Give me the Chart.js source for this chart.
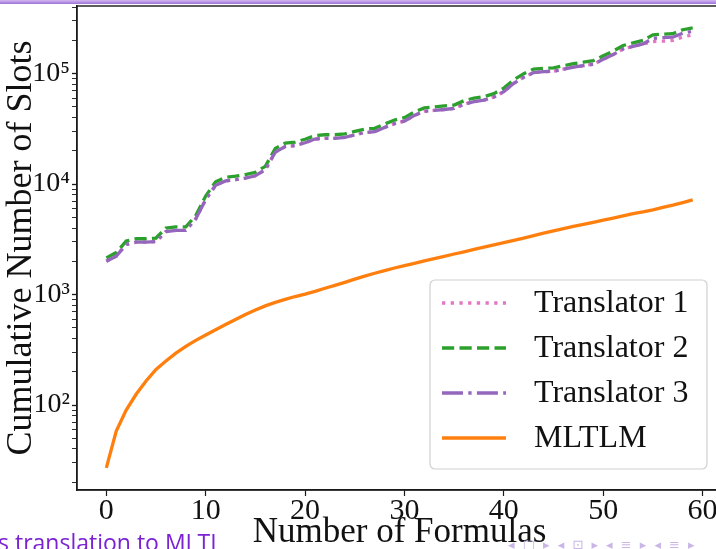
<!DOCTYPE html>
<html>
<head>
<meta charset="utf-8">
<script src="https://cdn.jsdelivr.net/npm/chart.js@4/dist/chart.umd.min.js"></script>
<style>
  html, body { margin: 0; padding: 0; background: #fff; overflow: hidden; }
  #marco { position: relative; width: 716px; height: 549px; overflow: hidden; }
  #barra { position: absolute; left: 0; top: 0; width: 716px; height: 4px; background: linear-gradient(#d4b8f2, #9d72d8); z-index: 2; }
  #grafica { position: absolute; left: 0; top: 0; }
  #pie { position: absolute; left: -2px; top: 531px; font-family: "Open Sans", sans-serif; font-size: 23px; line-height: 1; color: #7b22d4; white-space: nowrap; }
  #nav { position: absolute; left: 508px; top: 538px; font-family: "DejaVu Sans", sans-serif; font-size: 13px; line-height: 1; color: #c9b6e6; white-space: nowrap; letter-spacing: 2px; }
</style>
</head>
<body>
<div id="marco">
  <div id="barra"></div>
  <canvas id="grafica" width="722" height="549"></canvas>
  <div id="pie">s translation to MLTL</div>
  <div id="nav">◂ □ ▸ ◂ ⊡ ▸ ◂ ≡ ▸ ◂ ≡ ▸</div>
</div>
<script>
// Número de fórmulas (eje x)
const formulas = [0, 1, 2, 3, 4, 5, 6, 7, 8, 9, 10, 11, 12, 13, 14, 15, 16, 17, 18, 19,
  20, 21, 22, 23, 24, 25, 26, 27, 28, 29, 30, 31, 32, 33, 34, 35, 36, 37, 38, 39,
  40, 41, 42, 43, 44, 45, 46, 47, 48, 49, 50, 51, 52, 53, 54, 55, 56, 57, 58, 59];

// Slots acumulados por traductor
const traductor1 = [2000, 2230, 2840, 2980, 2980, 3020, 3720, 3810, 3810, 4840,
  7250, 9770, 10700, 10970, 11350, 11900, 13500, 19500, 21900, 22300,
  23700, 25600, 26000, 26000, 26500, 27900, 29300, 29800, 32600, 35300,
  37200, 41900, 45600, 46500, 47400, 48400, 53000, 55800, 57700, 61400,
  68800, 81800, 93000, 102300, 104200, 105100, 109700, 114400, 118100, 121800,
  134900, 148800, 167400, 176700, 185000, 195000, 197000, 200000, 215000, 225000];
const traductor2 = [2150, 2400, 3050, 3200, 3200, 3250, 4000, 4100, 4100, 5200,
  7800, 10500, 11500, 11800, 12200, 12800, 14500, 21000, 23500, 24000,
  25500, 27500, 28000, 28000, 28500, 30000, 31500, 32000, 35000, 38000,
  40000, 45000, 49000, 50000, 51000, 52000, 57000, 60000, 62000, 66000,
  74000, 88000, 100000, 110000, 112000, 113000, 118000, 123000, 127000, 131000,
  145000, 160000, 180000, 190000, 200000, 225000, 228000, 230000, 250000, 260000];
const traductor3 = [2000, 2230, 2840, 2980, 2980, 3020, 3720, 3810, 3810, 4840,
  7250, 9770, 10700, 10970, 11350, 11900, 13500, 19500, 21900, 22300,
  23700, 25600, 26000, 26000, 26500, 27900, 29300, 29800, 32600, 35300,
  37200, 41900, 45600, 46500, 47400, 48400, 53000, 55800, 57700, 61400,
  68800, 81800, 93000, 102300, 104200, 105100, 109700, 114400, 118100, 121800,
  134900, 148800, 167400, 176700, 186000, 209000, 212000, 214000, 232500, 242000];
const mltlm = [27, 58, 90, 125, 165, 210, 250, 295, 340, 385,
  430, 480, 535, 595, 660, 725, 790, 850, 905, 960,
  1010, 1070, 1140, 1210, 1290, 1380, 1470, 1560, 1650, 1740,
  1830, 1920, 2020, 2120, 2220, 2330, 2440, 2560, 2690, 2820,
  2950, 3100, 3250, 3420, 3600, 3780, 3960, 4140, 4320, 4510,
  4710, 4920, 5150, 5400, 5600, 5850, 6150, 6450, 6800, 7200];

const etiquetas = ['Translator 1', 'Translator 2', 'Translator 3', 'MLTLM'];
const ticksX = [0, 10, 20, 30, 40, 50, 60];
const potenciasY = [2, 3, 4, 5];

const superindice = { '2': '\u00B2', '3': '\u00B3', '4': '\u2074', '5': '\u2075' };
const fuente = '"Liberation Serif", "Times New Roman", serif';

function puntos(valores) {
  return valores.map((v, i) => ({ x: formulas[i], y: v }));
}

// Marco completo del área (estilo matplotlib)
const pluginMarco = {
  id: 'marco',
  afterDatasetsDraw(chart) {
    const a = chart.chartArea;
    const c = chart.ctx;
    c.save();
    c.strokeStyle = '#1a1a1a';
    c.lineWidth = 1.4;
    c.strokeRect(a.left, a.top, a.right - a.left, a.bottom - a.top);
    c.restore();
  }
};

// Leyenda dentro del gráfico
const pluginLeyenda = {
  id: 'leyendaInterna',
  afterDraw(chart) {
    const c = chart.ctx;
    const x0 = 430, y0 = 280, w = 277, h = 189;
    c.save();
    c.fillStyle = 'rgba(255,255,255,0.85)';
    c.strokeStyle = '#d0d0d0';
    c.lineWidth = 1.2;
    c.beginPath();
    c.roundRect(x0, y0, w, h, 5);
    c.fill();
    c.stroke();
    chart.data.datasets.forEach((ds, i) => {
      const y = 303 + i * 45;
      c.strokeStyle = ds.borderColor;
      c.lineWidth = ds.borderWidth;
      c.setLineDash(ds.borderDash || []);
      c.beginPath();
      c.moveTo(442, y);
      c.lineTo(506, y);
      c.stroke();
      c.setLineDash([]);
      c.fillStyle = '#111';
      c.font = '32px ' + fuente;
      c.textBaseline = 'middle';
      c.textAlign = 'left';
      c.fillText(ds.label, 534, y + 1);
    });
    c.restore();
  }
};

new Chart(document.getElementById('grafica').getContext('2d'), {
  type: 'line',
  data: {
    datasets: [
      { label: etiquetas[0], data: puntos(traductor1), borderColor: '#e377c2', borderWidth: 3.3, borderDash: [3.3, 5.4], order: 3 },
      { label: etiquetas[1], data: puntos(traductor2), borderColor: '#2ca02c', borderWidth: 3.3, borderDash: [12.2, 5.3], order: 2 },
      { label: etiquetas[2], data: puntos(traductor3), borderColor: '#9467bd', borderWidth: 3.3, borderDash: [21, 5.3, 3.3, 5.3], order: 1 },
      { label: etiquetas[3], data: puntos(mltlm), borderColor: '#ff7f0e', borderWidth: 3.3, order: 0 }
    ]
  },
  options: {
    responsive: false,
    animation: false,
    devicePixelRatio: 1,
    layout: { padding: { top: 6, left: 0, right: 0, bottom: 0 } },
    elements: { point: { radius: 0 }, line: { tension: 0, fill: false } },
    plugins: { legend: { display: false }, tooltip: { enabled: false } },
    scales: {
      x: {
        type: 'linear',
        min: -2.95,
        max: 61.95,
        afterBuildTicks: (scale) => { scale.ticks = ticksX.map(v => ({ value: v })); },
        afterFit: (scale) => {
          scale.height = 59;
          scale.paddingLeft = 0;
          scale.paddingRight = 0;
        },
        ticks: { color: '#111', font: { family: fuente, size: 30 }, padding: -3, maxRotation: 0, autoSkip: false },
        grid: { drawOnChartArea: false, tickLength: 6, tickWidth: 1.2, color: '#1a1a1a' },
        border: { color: '#1a1a1a', width: 1.4 },
        title: { display: true, text: 'Number of Formulas', color: '#111', font: { family: fuente, size: 35, lineHeight: 0.9 }, padding: 0 }
      },
      y: {
        type: 'logarithmic',
        min: 17,
        max: 410000,
        afterBuildTicks: (scale) => {
          const t = [];
          for (let e = 1; e <= 5; e++) {
            for (let m = 1; m <= 9; m++) {
              const v = m * Math.pow(10, e);
              if (v >= 17 && v <= 410000) t.push({ value: v, major: m === 1 });
            }
          }
          scale.ticks = t;
        },
        afterFit: (scale) => {
          scale.width = 77;
          scale.paddingTop = 0;
          scale.paddingBottom = 0;
        },
        ticks: {
          color: '#111',
          font: { family: fuente, size: 28 },
          padding: 2,
          autoSkip: false,
          callback: (v) => {
            const e = Math.round(Math.log10(v));
            if (potenciasY.includes(e) && Math.abs(v - Math.pow(10, e)) < 1e-6) return '10' + superindice[String(e)];
            return '';
          }
        },
        grid: {
          drawOnChartArea: false,
          tickLength: 5,
          tickWidth: (ctx) => (ctx.tick && ctx.tick.major ? 1.3 : 0.9),
          color: '#1a1a1a'
        },
        border: { color: '#1a1a1a', width: 1.4 },
        title: { display: true, text: 'Cumulative Number of Slots', color: '#111', font: { family: fuente, size: 36, lineHeight: 1.2 }, padding: 0 }
      }
    }
  },
  plugins: [pluginMarco, pluginLeyenda]
});
</script>
</body>
</html>
